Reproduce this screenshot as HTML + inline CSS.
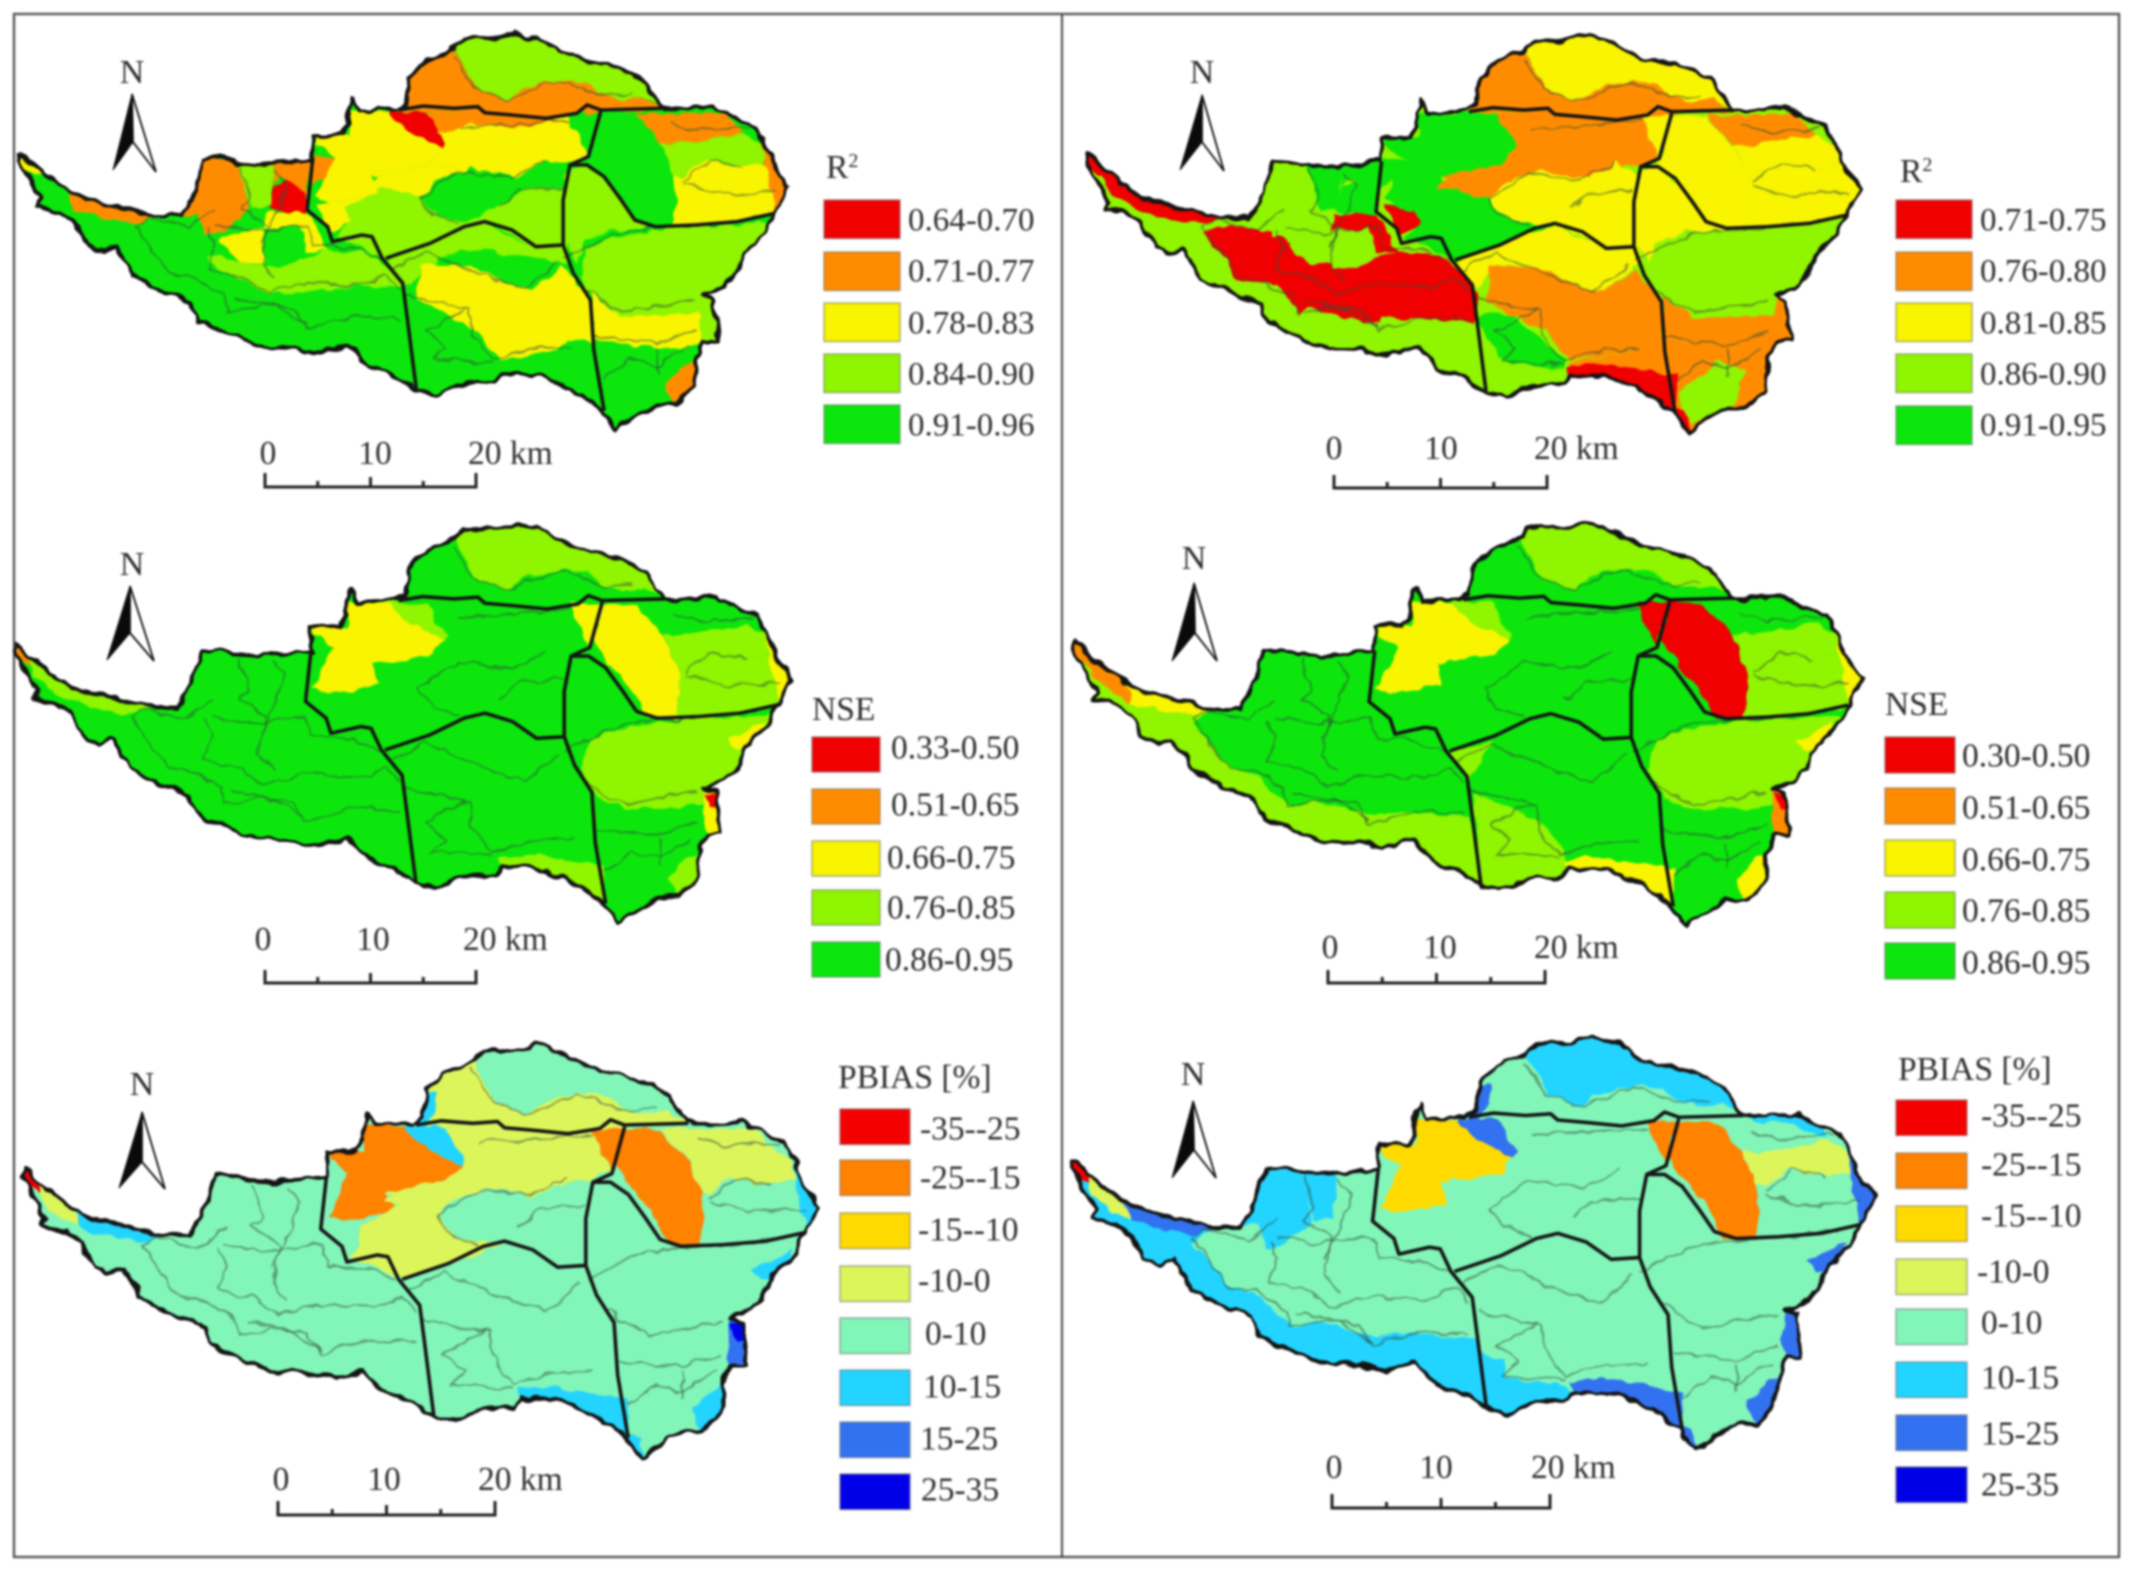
<!DOCTYPE html>
<html lang="en">
<head>
<meta charset="utf-8">
<title>Model performance maps: R2, NSE and PBIAS</title>
<style>
html,body{margin:0;padding:0;background:#fff;}
svg{display:block;}
text{font-family:"Liberation Serif",serif;fill:#2e2e2e;}
</style>
</head>
<body>
<svg id="figure" xmlns="http://www.w3.org/2000/svg" width="2133" height="1570" viewBox="0 0 2133 1570">
  <defs>
    <filter id="rough" filterUnits="userSpaceOnUse" x="0" y="0" width="2133" height="1570" color-interpolation-filters="sRGB">
      <feTurbulence type="fractalNoise" baseFrequency="0.06" numOctaves="2" seed="4" result="n"/>
      <feDisplacementMap in="SourceGraphic" in2="n" scale="10" xChannelSelector="R" yChannelSelector="G"/>
    </filter>
    <filter id="soft" filterUnits="userSpaceOnUse" x="0" y="0" width="2133" height="1570" color-interpolation-filters="sRGB">
      <feGaussianBlur stdDeviation="1.1"/>
    </filter>
    <clipPath id="basin-clip"><polygon id="basin-clip-shape" points=""/></clipPath>
  </defs>
  <rect width="2133" height="1570" fill="#fff"/>
  <g id="stage" filter="url(#soft)">
    <rect x="14" y="14" width="2105" height="1543" fill="none" stroke="#555" stroke-width="2.4"/>
    <line x1="1062" y1="14" x2="1062" y2="1557" stroke="#444" stroke-width="2"/>
  </g>
</svg>
<script>
// Legend class labels per panel
const panelALabels = ["0.64-0.70","0.71-0.77","0.78-0.83","0.84-0.90","0.91-0.96"];
const panelBLabels = ["0.71-0.75","0.76-0.80","0.81-0.85","0.86-0.90","0.91-0.95"];
const panelCLabels = ["0.33-0.50","0.51-0.65","0.66-0.75","0.76-0.85","0.86-0.95"];
const panelDLabels = ["0.30-0.50","0.51-0.65","0.66-0.75","0.76-0.85","0.86-0.95"];
const panelELabels = ["-35--25","-25--15","-15--10","-10-0","0-10","10-15","15-25","25-35"];
const panelFLabels = ["-35--25","-25--15","-15--10","-10-0","0-10","10-15","15-25","25-35"];
const scaleLabels = ["0","10","20 km"];

// Class of each sub-basin group per panel (index into legend, -1 = same as the panel base class)
const panelBaseClass = [4,3,4,4,4,4];
const panelAClasses = [-1,3,-1,1,3,1,0,2,4,2,1,2,0,2,1,4,4,2,3,3,2,2,1,1,3,-1,4,4,1,3,2,1,-1,3,3,3,2,-1,-1,1,3,3,3,3,4,2,-1,-1,-1,-1,-1,2,1,-1,-1];
const panelBClasses = [3,0,0,3,4,4,4,0,3,3,4,4,4,1,1,2,2,1,4,2,0,4,1,1,2,-1,2,2,1,2,2,2,-1,2,3,3,1,1,3,1,1,1,2,2,2,1,3,4,1,0,0,0,0,0,-1];
const panelCClasses = [-1,-1,-1,-1,-1,-1,-1,-1,-1,-1,-1,2,3,-1,-1,2,-1,-1,-1,-1,-1,-1,-1,-1,3,-1,2,-1,-1,3,3,2,-1,-1,3,2,-1,-1,-1,3,2,0,-1,-1,-1,-1,-1,-1,-1,3,-1,1,3,3,-1];
const panelDClasses = [3,-1,-1,-1,-1,-1,-1,-1,-1,-1,-1,2,3,-1,-1,0,-1,-1,-1,-1,-1,-1,-1,-1,3,-1,0,-1,-1,3,3,2,-1,-1,3,2,-1,-1,-1,2,1,0,-1,3,-1,-1,3,-1,-1,2,-1,1,2,1,-1];
const panelEClasses = [-1,-1,-1,-1,-1,-1,-1,-1,-1,-1,-1,1,5,3,3,1,-1,3,3,-1,-1,-1,3,3,-1,5,1,-1,3,3,-1,5,-1,-1,-1,5,-1,-1,-1,5,6,7,-1,-1,-1,-1,-1,-1,-1,5,5,0,5,3,-1];
const panelFClasses = [5,-1,-1,5,5,-1,-1,-1,-1,-1,-1,2,6,-1,-1,1,-1,-1,-1,-1,-1,-1,-1,-1,5,6,1,-1,-1,3,-1,6,5,-1,-1,6,-1,-1,-1,6,6,-1,-1,-1,-1,-1,-1,-1,-1,6,6,0,6,3,5];

// Map geometry (shared sub-basin groups)
const basinOutline = "30,458 38,465 50,495 80,545 110,585 150,610 190,630 225,648 265,648 280,600 300,480 320,475 345,490 380,495 410,490 440,485 458,480 458,410 500,405 510,370 510,330 517,295 525,335 580,328 595,310 600,230 625,180 665,145 680,120 725,115 755,100 790,115 830,165 870,185 910,205 945,250 970,325 1010,325 1045,322 1080,355 1105,375 1120,430 1130,490 1155,565 1135,640 1120,700 1090,760 1075,830 1060,860 1030,885 1045,900 1052,1020 1030,1025 1020,1080 1015,1165 990,1215 960,1215 930,1250 903,1290 880,1225 860,1195 830,1160 790,1125 735,1120 725,1145 680,1150 640,1185 610,1170 580,1130 540,1100 510,1035 470,1060 430,1045 380,1040 360,1025 320,990 290,960 280,905 245,880 215,850 195,830 185,790 170,740 150,755 130,740 110,670 90,640 55,620 60,600 45,540 28,480";
const regionShapes = [
"10,440 60,480 150,600 225,650 198,695 252,822 291,852 340,941 370,921 458,965 497,950 595,970 615,1200 540,1120 360,1060 260,960 160,820 110,720 20,620",
"305,760 355,790 420,800 480,750 540,760 580,820 595,860 500,860 430,880 390,880 360,840 305,790",
"198,695 238,670 308,695 338,755 388,785 458,765 528,775 578,815 598,875 593,965 458,945 453,970 348,915 338,945 308,845 248,835 218,745",
"295,475 345,490 355,510 365,630 330,690 300,710 290,640 260,650",
"350,490 403,490 395,620 368,630",
"403,480 458,480 450,590 420,540 410,530 400,560",
"400,560 420,540 447,580 452,635 430,640 393,630",
"390,640 452,635 482,750 450,760 440,680 385,685",
"385,685 440,680 450,765 420,800 385,800",
"325,710 385,685 385,790 355,790 320,730",
"458,470 495,470 480,530 455,555",
"512,335 570,340 600,400 650,445 630,490 545,520 555,580 480,610 462,590 490,470 462,430 462,410 512,405",
"570,335 625,335 640,395 655,430 650,445 600,400 570,345",
"625,335 700,330 800,355 860,340 835,345 840,380 860,460 830,490 790,500 750,540 720,520 680,510 640,490 555,530 545,520 630,490 650,445 655,430 640,395",
"625,335 700,330 800,355 832,362 755,380 680,370 650,400 640,395",
"835,340 880,335 862,465 840,380",
"615,590 640,540 690,505 730,520 760,530 800,480 830,530 830,560 770,570 730,620 680,670 640,650",
"555,530 640,490 680,510 640,540 615,590 560,565 540,550",
"505,625 560,565 615,590 640,650 680,670 710,670 630,730 565,775 490,710 505,680",
"730,620 770,570 830,560 830,735 780,740 720,670 680,670",
"463,610 505,618 513,665 485,700",
"480,610 555,580 540,550 560,565 505,625 463,610",
"585,335 600,230 625,180 665,150 695,260 740,300 740,350 700,330",
"740,300 765,265 820,235 860,250 880,285 910,300 940,290 975,330 880,335 800,355 740,350",
"665,145 680,110 755,90 830,155 910,195 950,245 980,325 940,290 910,300 880,285 860,250 820,235 765,265 740,300 695,260",
"597,240 615,240 612,290 600,335 585,335",
"880,340 930,345 970,435 988,525 992,610 985,680 945,680 922,594 882,495 868,445",
"868,445 882,495 922,594 945,680 920,660 880,520 860,490",
"930,340 1060,340 1090,400 1000,430 970,430 945,375",
"970,430 1000,430 1090,400 1125,440 1120,490 1070,500 1030,480 1000,530 988,525",
"988,525 1000,530 1030,480 1070,500 1120,490 1160,565 1135,640 1070,670 985,680 992,610",
"1105,375 1130,430 1135,490 1165,565 1135,630 1122,500 1118,440",
"975,320 1045,315 1085,355 1090,395 1040,350 990,345",
"830,510 860,490 900,570 930,670 985,680 900,690 860,720 845,790 822,700",
"860,740 910,710 985,685 1130,670 1095,770 1075,860 1035,900 1035,940 910,950 870,910 850,830",
"1060,745 1115,690 1095,770 1075,775",
"865,880 910,950 1035,940 1035,895 1050,900 1055,1020 1030,1030 1005,1045 930,1040 870,1015",
"870,1015 930,1040 1005,1045 1030,1025 1025,1175 990,1225 960,1225 905,1300 880,1225",
"888,1175 948,1080 988,1105 978,1195 908,1265",
"1005,1090 1025,1075 1025,1175 990,1225 975,1150",
"1030,890 1050,895 1056,1025 1030,1030 1025,960",
"1030,900 1052,905 1052,950 1035,950",
"565,780 640,720 710,670 780,740 830,735 835,790 800,800 620,790 600,860",
"565,780 625,745 595,860",
"640,770 700,745 825,790 780,870 740,850 690,800 640,790",
"615,790 690,800 740,850 780,870 825,800 862,890 870,1030 830,1015 815,1050 730,1080 700,990 610,900",
"600,895 700,990 730,1080 735,1160 680,1160 640,1195 605,1180",
"598,940 648,935 723,1070 723,1100 638,1085 613,1015",
"730,1085 815,1050 830,1015 870,1030 885,1235 860,1205 830,1170 790,1135 735,1130",
"728,1095 778,1085 868,1115 885,1120 885,1235 838,1175 790,1135 735,1130",
"880,1220 900,1225 908,1300 895,1290",
"20,445 42,470 62,520 50,525 25,485",
"100,570 230,650 205,665 160,660 108,628",
"50,500 100,570 110,630 85,605 55,552",
"600,1005 636,1032 636,1083 718,1103 735,1135 680,1160 640,1195 605,1180"
];
const subBasinLines = [
"210,640 230,620 290,650 330,590",
"370,470 385,560 370,590 410,640 400,750 420,800",
"420,480 440,520 425,600 400,700",
"320,650 330,700 320,770 370,790 410,840 470,810 550,820 590,790 610,830",
"330,640 390,660 470,640 480,700 540,710 580,740",
"210,640 235,720 265,790 300,800 345,850 350,900 400,880 450,890 470,950 540,910 610,920",
"360,860 420,880 470,940",
"620,850 680,880 715,890 720,960 750,1040 800,1010 870,1000",
"600,770 650,720 700,760 750,800 800,830 850,750",
"710,890 650,950",
"650,950 680,1000 660,1040 750,1050",
"860,740 900,700 950,660 1000,650 1080,640 1150,620",
"890,830 930,880 950,900 1000,880 1060,860",
"905,970 950,980 1000,990 1060,950",
"920,1100 960,1040 1000,1060 1050,1000",
"1000,1000 1000,1080",
"640,560 700,480 780,500 830,450",
"640,560 660,610 700,640",
"760,590 790,540 860,530",
"700,350 780,340 870,330",
"1040,510 1080,450 1130,470",
"1040,520 1100,550 1180,540",
"1020,340 1060,360 1140,350",
"690,140 720,230 770,270 850,210 920,260 960,250"
];
const dividerLines = [
"585,330 620,318 665,325 700,320 710,338 750,345 800,355 845,340 860,315 880,330 970,325",
"458,480 450,630 480,680 487,725 530,705 545,710 560,775 590,850 597,960 610,1170",
"565,775 630,730 680,680 710,665 750,690 785,740 825,735",
"880,335 862,470 835,495 825,600 825,735 840,820 865,900 870,1050 885,1232",
"835,495 860,495 885,530 910,600 930,660 960,680 1020,675 1080,665 1135,640"
];

// Colour ramps
const fitColors = ["#f00000","#ff8c00","#f9f400","#8ff500","#0ce60c"];
const biasColors = ["#f50000","#ff8200","#ffda00","#dcf55a","#82f5b8","#22d4ff","#3272f0","#0000e8"];

// Panel layout
const panels = [
 {classes:panelAClasses,labels:panelALabels,colors:fitColors,title:"R",sup:"2",m:[.6826,.3333,0,0],
  tx:826,ty:178,sx:824,sw:76,sy:[200,252,303,354,405],sh:38.5,lx:[908,908,908,908,908],lyc:[220,271,323,374,425],fs:33,
  n:[132,83,132,94,113,170,133,142,156,172],bar:[265,476,487,473],bl:[464,268,375,468]},
 {classes:panelBClasses,labels:panelBLabels,colors:fitColors,title:"R",sup:"2",m:[.6875,.3333,1066.7,1.7],
  tx:1900,ty:182,sx:1896,sw:76,sy:[200,252,303,354,406],sh:38.5,lx:[1980,1980,1980,1980,1980],lyc:[220,271,323,374,425],fs:33,
  n:[1202,83,1202,95,1180,170,1202,142,1224,171],bar:[1334,1547,488,475],bl:[459,1334,1441,1534]},
 {classes:panelCClasses,labels:panelCLabels,colors:fitColors,title:"NSE",m:[.690,.336,-5,489.7],
  tx:812,ty:720,sx:812,sw:68,sy:[737,789,841,890,942],sh:35,lx:[891,891,887,887,885],lyc:[748,805,858,908,960],fs:33.5,
  n:[132,575,130,586,107,660,130,633,154,661],bar:[265,476,983,970],bl:[950,263,373,463]},
 {classes:panelDClasses,labels:panelDLabels,colors:fitColors,title:"NSE",m:[.699,.3398,1054.6,487.7],
  tx:1885,ty:715,sx:1885,sw:70,sy:[737,788,840,892,943],sh:36,lx:[1962,1962,1962,1962,1962],lyc:[756,808,860,911,963],fs:33.5,
  n:[1194,569,1194,583,1172,661,1195,633,1217,661],bar:[1328,1545,983,970],bl:[958,1330,1440,1534]},
 {classes:panelEClasses,labels:panelELabels,colors:biasColors,title:"PBIAS [%]",m:[.7068,.3467,2.7,1010.6],
  tx:838,ty:1088,sx:840,sw:70,sy:[1109,1160,1213,1266,1318,1370,1422,1474],sh:35.5,lx:[920,920,918,918,925,923,920,921],lyc:[1129,1178,1230,1281,1334,1387,1439,1490],fs:33.5,
  n:[142,1095,142,1112,119,1188,142,1162,165,1189],bar:[278,495,1515,1501],bl:[1490,281,384,478]},
 {classes:panelFClasses,labels:panelFLabels,colors:biasColors,title:"PBIAS [%]",m:[.712,.3465,1052.2,1002.9],
  tx:1898,ty:1080,sx:1896,sw:71,sy:[1100,1153,1206,1259,1309,1362,1415,1467],sh:35.5,lx:[1981,1981,1981,1977,1981,1981,1981,1981],lyc:[1116,1165,1216,1272,1323,1378,1434,1485],fs:33.5,
  n:[1193,1085,1193,1101,1172,1178,1194,1150,1216,1178],bar:[1332,1550,1508,1494],bl:[1478,1334,1436,1531]}
];

const NS = "http://www.w3.org/2000/svg";
const stage = document.getElementById("stage");
document.getElementById("basin-clip-shape").setAttribute("points", basinOutline);

function make(tag, parent, attrs) {
  const el = document.createElementNS(NS, tag);
  for (const k in attrs) el.setAttribute(k, attrs[k]);
  parent.appendChild(el);
  return el;
}

panels.forEach(function (p, pi) {
  const panel = make("g", stage, {});
  
  

  // rough-edged map
  const rough = make("g", panel, {filter: "url(#rough)"});
  
  
  const frame = make("g", rough, {transform: "matrix(" + p.m[0] + ",0,0," + p.m[1] + "," + p.m[2] + "," + p.m[3] + ")"});
  
  

  const clipped = make("g", frame, {"clip-path": "url(#basin-clip)"});
  
  

  const base = make("polygon", clipped, {points: basinOutline, fill: p.colors[panelBaseClass[pi]]});
  
  

  regionShapes.forEach(function (pts, i) {
    const c = p.classes[i];
    if (c === undefined || c < 0) return;
    const poly = make("polygon", clipped, {points: pts, fill: p.colors[c]});
    
    
  });

  const lines = make("g", clipped, {transform: "matrix(.966,0,0,1.012,-4,27)", fill: "none", stroke: "rgba(50,80,60,.5)", "stroke-width": "2"});
  
  
  subBasinLines.forEach(function (pts) {
    const l = make("polyline", lines, {points: pts, "vector-effect": "non-scaling-stroke"});
    
    
  });

  const outline = make("polygon", frame, {points: basinOutline, fill: "none", stroke: "#141414", "stroke-width": "3.8", "stroke-linejoin": "round", "vector-effect": "non-scaling-stroke"});
  
  

  // smooth catchment dividers
  const divs = make("g", panel, {transform: "matrix(" + p.m[0] + ",0,0," + p.m[1] + "," + p.m[2] + "," + p.m[3] + ")", fill: "none", stroke: "#151515", "stroke-width": "3.6", "stroke-linejoin": "round"});
  
  
  dividerLines.forEach(function (pts) {
    const d = make("polyline", divs, {points: pts, "vector-effect": "non-scaling-stroke"});
    
    
  });

  // north arrow
  const nv = p.n;
  const nLabel = make("text", panel, {x: nv[0], y: nv[1], "font-size": 34, "text-anchor": "middle"});
  nLabel.textContent = "N";
  
  
  const arrowR = make("polygon", panel, {points: [nv[2],nv[3],nv[8],nv[9],nv[6],nv[7]].join(","), fill: "#fff", stroke: "#111", "stroke-width": 1.8});
  
  
  const arrowL = make("polygon", panel, {points: [nv[2],nv[3],nv[4],nv[5],nv[6],nv[7]].join(","), fill: "#0a0a0a", stroke: "#111", "stroke-width": 1});
  
  

  // scale bar
  const b = p.bar, step = (b[1] - b[0]) / 4;
  const barPath = "M" + b[0] + " " + b[3] + "V" + b[2] + "H" + b[1] + "V" + b[3] +
    "M" + (b[0] + step) + " " + b[2] + "v-6M" + (b[0] + 2 * step) + " " + b[2] + "v-10M" + (b[0] + 3 * step) + " " + b[2] + "v-6";
  const bar = make("path", panel, {d: barPath, fill: "none", stroke: "#222", "stroke-width": 3});
  
  
  scaleLabels.forEach(function (t, i) {
    const st = make("text", panel, {x: p.bl[i + 1], y: p.bl[0], "font-size": 33.5, "text-anchor": i === 2 ? "start" : "middle"});
    st.textContent = t;
    
    
  });

  // legend
  const title = make("text", panel, {x: p.tx, y: p.ty, "font-size": 33.5});
  title.textContent = p.title;
  
  
  if (p.sup) {
    const sup = make("tspan", title, {dy: -11, "font-size": 20});
    sup.textContent = p.sup;
  }
  p.labels.forEach(function (t, i) {
    const sw = make("rect", panel, {x: p.sx, y: p.sy[i], width: p.sw, height: p.sh, fill: p.colors[i], stroke: "rgba(90,90,90,.45)", "stroke-width": 1.6});
    
    
    const lb = make("text", panel, {x: p.lx[i], y: p.lyc[i] + 10.5, "font-size": p.fs});
    lb.textContent = t;
    
    
  });
});
</script>
</body>
</html>
